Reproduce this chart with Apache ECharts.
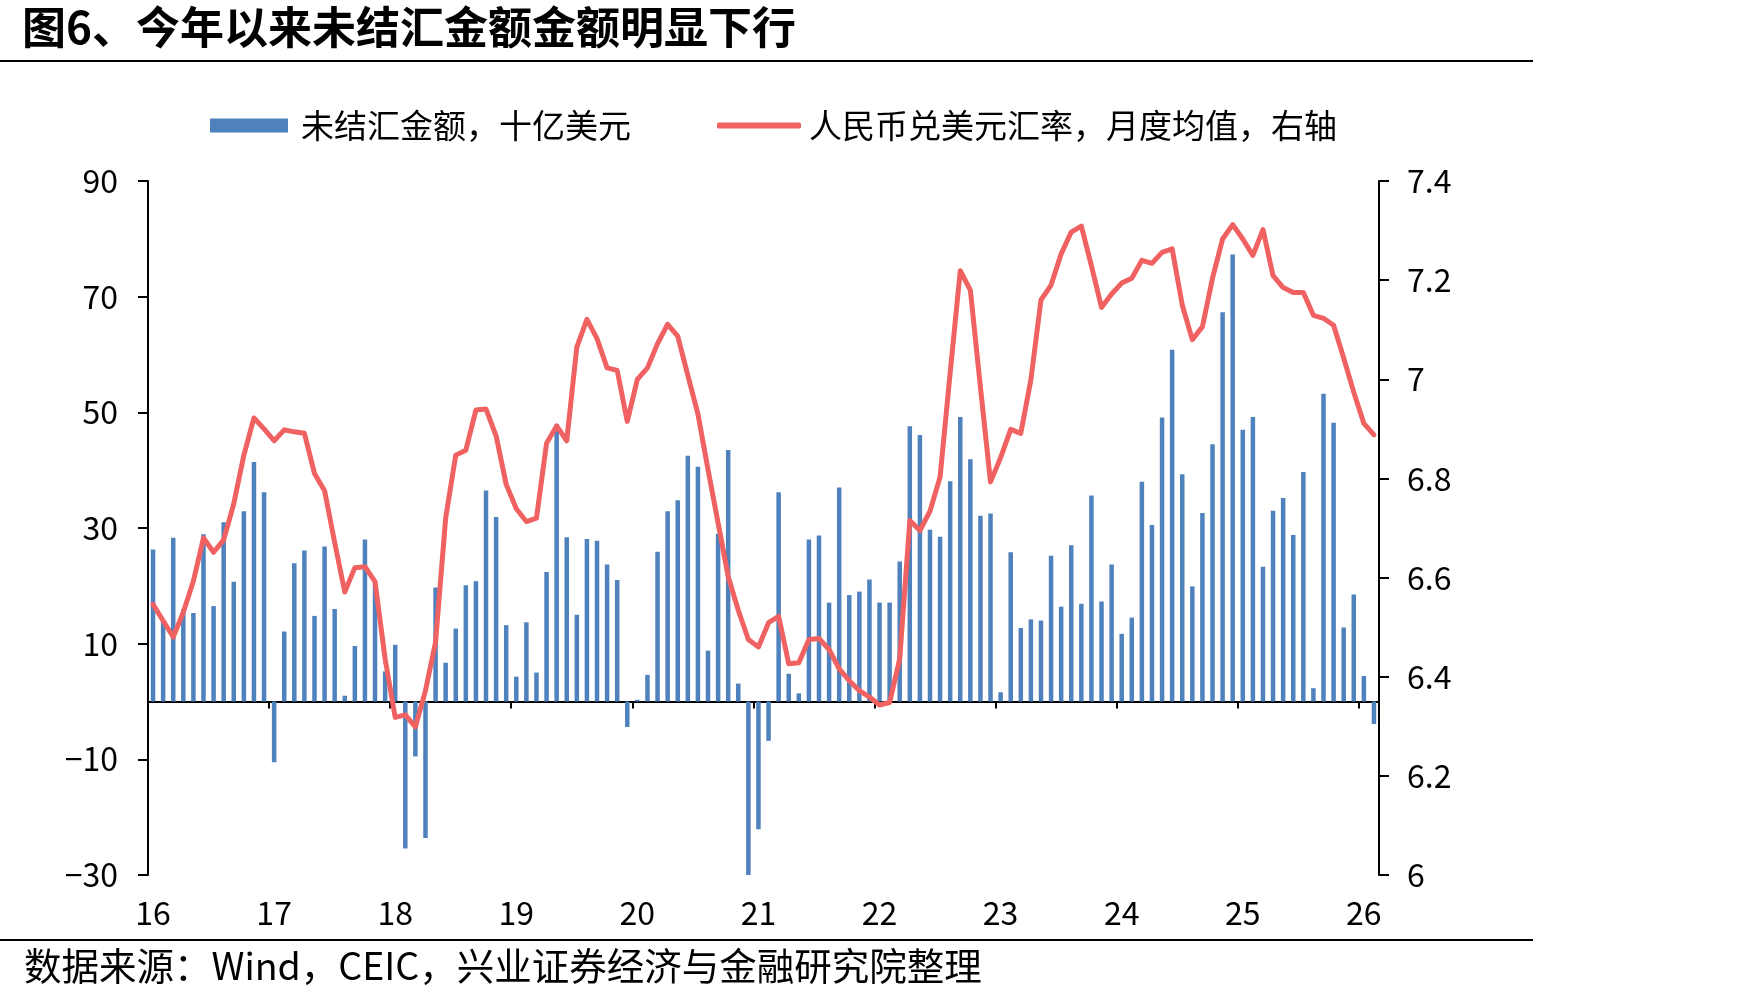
<!DOCTYPE html>
<html>
<head>
<meta charset="utf-8">
<title>未结汇金额</title>
<script src="https://cdn.jsdelivr.net/npm/echarts@6/dist/echarts.min.js"></script>
<style>
  html, body { margin: 0; padding: 0; background: #fff; }
  #chart { width: 1748px; height: 1001px; }
</style>
</head>
<body>
<div id="chart"></div>
<script>
// ---------------------------------------------------
// Data (monthly, Jan 2016 - Feb 2026)
// ---------------------------------------------------
const yearLabels = ["16", "17", "18", "19", "20", "21", "22", "23", "24", "25", "26"];

// 未结汇金额，十亿美元
const unsettledFx = [
  26.3, 14.0, 28.3, 16.0, 15.3, 28.9, 16.5, 31.0, 20.7, 32.9, 41.4, 36.2,   // 2016
  -10.5, 12.1, 23.9, 26.1, 14.8, 26.8, 16.0, 1.0, 9.6, 28.0, 20.5, 5.2,     // 2017
  9.8, -25.4, -9.5, -23.6, 19.7, 6.7, 12.6, 20.1, 20.8, 36.5, 31.9, 13.2,   // 2018
  4.3, 13.7, 5.0, 22.4, 48.0, 28.4, 15.0, 28.1, 27.8, 23.7, 21.0, -4.4,     // 2019
  0.3, 4.6, 25.9, 32.9, 34.8, 42.5, 40.6, 8.8, 29.0, 43.5, 3.1, -30.0,      // 2020
  -22.1, -6.8, 36.2, 4.8, 1.4, 28.0, 28.7, 17.1, 37.0, 18.4, 19.0, 21.1,    // 2021
  17.1, 17.1, 24.2, 47.6, 46.1, 29.7, 28.5, 38.1, 49.2, 41.9, 32.1, 32.5,   // 2022
  1.6, 25.8, 12.7, 14.2, 14.0, 25.2, 16.4, 27.0, 16.9, 35.6, 17.3, 23.7,    // 2023
  11.7, 14.5, 38.0, 30.5, 49.1, 60.8, 39.3, 19.9, 32.6, 44.5, 67.3, 77.3,   // 2024
  47.0, 49.2, 23.3, 33.0, 35.2, 28.8, 39.7, 2.3, 53.2, 48.2, 12.8, 18.5,    // 2025
  4.4, -3.9                                                                 // 2026
];

// 人民币兑美元汇率，月度均值（右轴）
const usdCny = [
  6.546, 6.513, 6.480, 6.530, 6.593, 6.680, 6.651, 6.676, 6.749, 6.847, 6.922, 6.900,
  6.876, 6.898, 6.894, 6.891, 6.810, 6.775, 6.671, 6.571, 6.620, 6.622, 6.592, 6.436,
  6.318, 6.323, 6.299, 6.372, 6.470, 6.720, 6.847, 6.857, 6.938, 6.940, 6.886, 6.788,
  6.739, 6.713, 6.720, 6.871, 6.906, 6.876, 7.065, 7.121, 7.082, 7.023, 7.018, 6.915,
  7.000, 7.023, 7.072, 7.111, 7.087, 7.008, 6.930, 6.818, 6.710, 6.602, 6.534, 6.475,
  6.460, 6.509, 6.522, 6.426, 6.428, 6.475, 6.477, 6.455, 6.416, 6.392, 6.372, 6.359,
  6.343, 6.348, 6.436, 6.715, 6.695, 6.734, 6.803, 7.013, 7.219, 7.180, 6.984, 6.793,
  6.842, 6.899, 6.891, 6.999, 7.160, 7.190, 7.253, 7.297, 7.309, 7.229, 7.145, 7.172,
  7.194, 7.204, 7.240, 7.234, 7.256, 7.263, 7.150, 7.080, 7.106, 7.204, 7.283, 7.312,
  7.283, 7.250, 7.302, 7.209, 7.185, 7.175, 7.175, 7.129, 7.123, 7.109, 7.043, 6.974,
  6.911, 6.888
];

const leftTicks = [-30, -10, 10, 30, 50, 70, 90];

// month categories, one per data point
const months = unsettledFx.map((_, i) =>
  `${2016 + Math.floor(i / 12)}-${String(i % 12 + 1).padStart(2, "0")}`
);

// ---------------------------------------------------
// Chart
// ---------------------------------------------------
const BAR_NAME = "未结汇金额，十亿美元";
const LINE_NAME = "人民币兑美元汇率，月度均值，右轴";
const BLUE = "#4F81BD";
const RED = "#F06262";
const FONT = "'Noto Sans CJK SC', 'Noto Sans', sans-serif";

const chart = echarts.init(document.getElementById("chart"), null, { renderer: "canvas" });

chart.setOption({
  animation: false,
  textStyle: { fontFamily: FONT, color: "#000" },
  title: {
    text: "图6、今年以来未结汇金额金额明显下行",
    left: 22,
    top: 5,
    padding: 0,
    textStyle: { fontFamily: FONT, fontSize: 44, fontWeight: "bold", color: "#000" }
  },
  legend: [
    {
      data: [{ name: BAR_NAME, icon: "rect" }],
      left: 205,
      top: 104,
      itemWidth: 78,
      itemHeight: 14,
      itemGap: 0,
      textStyle: { fontFamily: FONT, fontSize: 33, color: "#000", padding: [0, 0, 0, 8] }
    },
    {
      data: [{ name: LINE_NAME, icon: "roundRect" }],
      left: 712,
      top: 104,
      itemWidth: 84,
      itemHeight: 6,
      itemGap: 0,
      textStyle: { fontFamily: FONT, fontSize: 33, color: "#000", padding: [0, 0, 0, 3] }
    }
  ],
  grid: { left: 148, right: 369, top: 181, bottom: 126, containLabel: false },
  xAxis: [
    {
      // axis line sitting on zero, with year ticks
      type: "category",
      data: months,
      boundaryGap: true,
      axisLine: { onZero: true, lineStyle: { color: "#000", width: 2 } },
      axisTick: { show: true, length: 7, interval: i => i % 12 === 0, lineStyle: { color: "#000", width: 2 } },
      axisLabel: { show: false }
    },
    {
      // year labels at the bottom
      type: "category",
      data: months,
      position: "bottom",
      boundaryGap: true,
      axisLine: { show: false, onZero: false },
      axisTick: { show: false },
      axisLabel: {
        interval: i => i % 12 === 0,
        formatter: (v, i) => (i % 12 === 0 ? yearLabels[i / 12] : ""),
        margin: 22,
        fontFamily: FONT,
        fontSize: 32,
        color: "#000"
      }
    }
  ],
  yAxis: [
    {
      type: "value",
      min: -30,
      max: 90,
      splitLine: { show: false },
      axisLine: { show: true, lineStyle: { color: "#000", width: 2 } },
      axisTick: { show: true, length: 10, customValues: leftTicks, lineStyle: { color: "#000", width: 2 } },
      axisLabel: { customValues: leftTicks, margin: 30, fontFamily: FONT, fontSize: 32, color: "#000",
        formatter: v => (v < 0 ? "\u2212" + Math.abs(v) : String(v)) }
    },
    {
      type: "value",
      min: 6,
      max: 7.4,
      interval: 0.2,
      position: "right",
      splitLine: { show: false },
      axisLine: { show: true, lineStyle: { color: "#000", width: 2 } },
      axisTick: { show: true, length: 10, lineStyle: { color: "#000", width: 2 } },
      axisLabel: { margin: 28, fontFamily: FONT, fontSize: 32, color: "#000" }
    }
  ],
  series: [
    {
      name: BAR_NAME,
      type: "bar",
      xAxisIndex: 0,
      yAxisIndex: 0,
      data: unsettledFx,
      barWidth: 4.5,
      itemStyle: { color: BLUE }
    },
    {
      name: LINE_NAME,
      type: "line",
      xAxisIndex: 0,
      yAxisIndex: 1,
      data: usdCny,
      showSymbol: false,
      symbol: "none",
      itemStyle: { color: RED },
      lineStyle: { color: RED, width: 5, cap: "round", join: "round" },
      z: 3
    }
  ],
  graphic: [
    { type: "line", shape: { x1: 0, y1: 61, x2: 1533, y2: 61 }, style: { stroke: "#000", lineWidth: 2 } },
    { type: "line", shape: { x1: 0, y1: 940, x2: 1533, y2: 940 }, style: { stroke: "#000", lineWidth: 2 } },
    {
      type: "text",
      left: 24,
      top: 947,
      style: { text: "数据来源：Wind，CEIC，兴业证券经济与金融研究院整理", font: `37.5px ${FONT}`, fill: "#000" }
    }
  ]
});

window.addEventListener("resize", chart.resize);
</script>
</body>
</html>
